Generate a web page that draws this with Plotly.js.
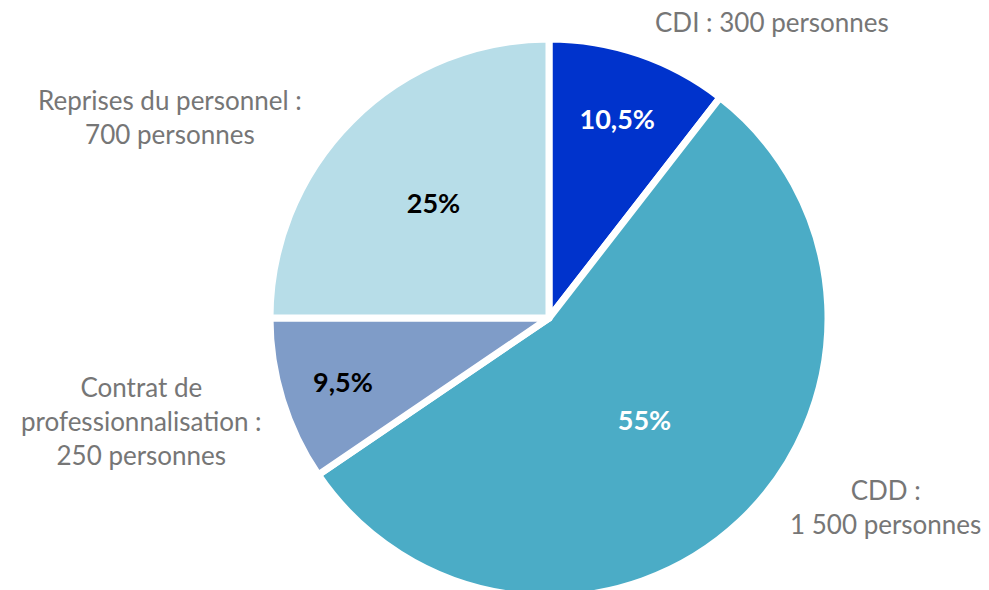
<!DOCTYPE html>
<html>
<head>
<meta charset="utf-8">
<script src="https://cdn.plot.ly/plotly-3.0.1.min.js"></script>
<style>
html, body { margin:0; padding:0; background:#fff; overflow:hidden; }
#chart { width:989px; height:600px; }
</style>
</head>
<body>
<div id="chart"></div>
<script>
const categories = ["CDI", "CDD", "Contrat de professionnalisation", "Reprises du personnel"];
const shares = [10.5, 55, 9.5, 25];
const shareLabels = ["10,5%", "55%", "9,5%", "25%"];
const outsideLabels = [
  "CDI : 300 personnes",
  "CDD :<br>1 500 personnes",
  "Contrat de<br>professionnalisation :<br>250 personnes",
  "Reprises du personnel :<br>700 personnes"
];
const sliceColors = ["#0033CC", "#4BACC6", "#7F9CC8", "#B7DDE8"];
const insideTextColors = ["#FFFFFF", "#FFFFFF", "#000000", "#000000"];

const H = 600, W = 989;
// outside label anchor points (pixels)
const labelPos = [[772, 22], [885, 507], [141, 421], [170, 117]];

const trace = {
  type: "pie",
  labels: categories,
  values: shares,
  text: shareLabels,
  textinfo: "text",
  textposition: "inside",
  insidetextorientation: "horizontal",
  sort: false,
  direction: "clockwise",
  rotation: 0,
  marker: { colors: sliceColors, line: { color: "#FFFFFF", width: 7 } },
  insidetextfont: { family: "Lato, 'Liberation Sans', sans-serif", size: 27, color: insideTextColors, weight: "bold" },
  domain: { x: [270 / W, 828 / W], y: [3 / H, (H - 39) / H] },
  hoverinfo: "label+text",
  showlegend: false
};

const annotations = outsideLabels.map((t, i) => ({
  text: t,
  xref: "paper", yref: "paper",
  x: labelPos[i][0] / W, y: 1 - labelPos[i][1] / H,
  xanchor: "center", yanchor: "middle",
  align: "center",
  showarrow: false,
  font: { family: "Lato, 'Liberation Sans', sans-serif", size: 26, color: "#767676" }
}));

const layout = {
  width: W, height: H,
  margin: { l: 0, r: 0, t: 0, b: 0 },
  paper_bgcolor: "#FFFFFF",
  showlegend: false,
  annotations: annotations
};

Plotly.newPlot("chart", [trace], layout, { displayModeBar: false, staticPlot: true });
</script>
</body>
</html>
